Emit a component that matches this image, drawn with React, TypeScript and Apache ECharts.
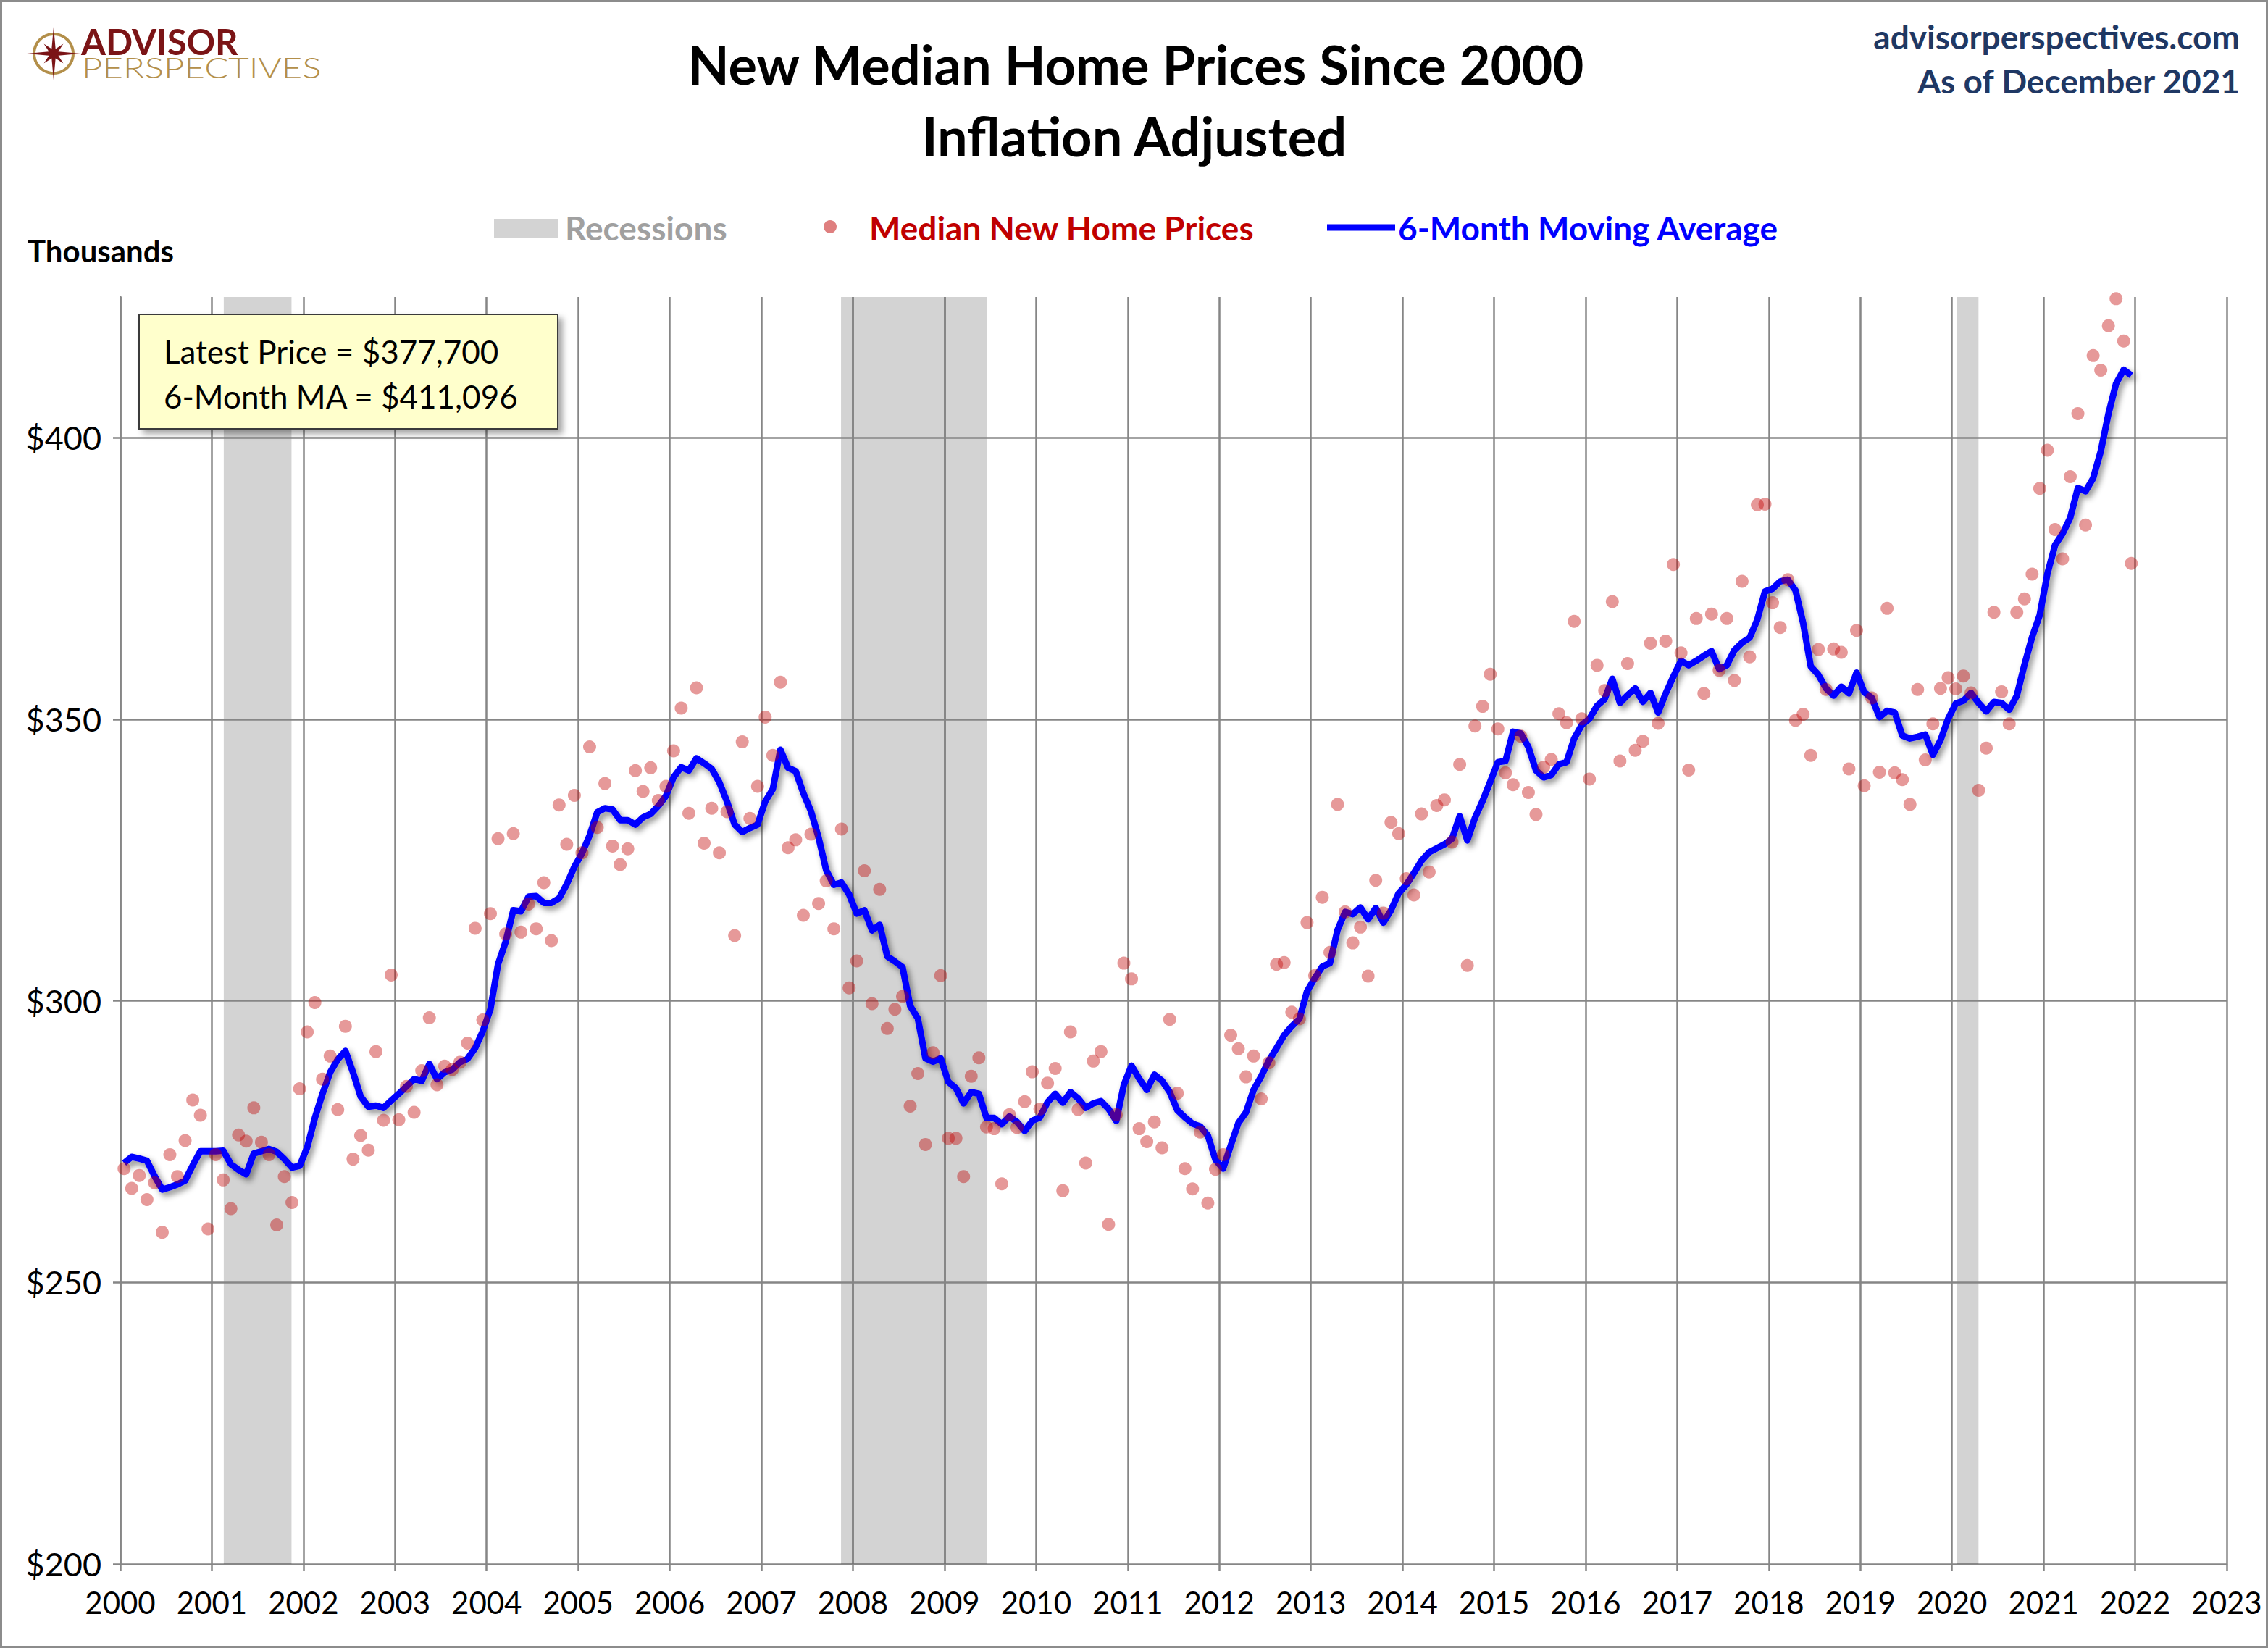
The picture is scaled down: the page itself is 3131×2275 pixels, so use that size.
import React, { useEffect, useRef } from "react";
import * as echarts from "echarts";

// ---- DATA (thousands of 2021 dollars), one row per year, Jan..Dec ----
const YEARS = [2000, 2001, 2002, 2003, 2004, 2005, 2006, 2007, 2008, 2009, 2010, 2011, 2012, 2013, 2014, 2015, 2016, 2017, 2018, 2019, 2020, 2021];

const MEDIAN_PRICES: number[][] = [
  [270.2, 266.7, 269.0, 264.7, 267.7, 258.9, 272.7, 268.8, 275.2, 282.4, 279.7, 259.5],
  [272.7, 268.2, 263.1, 276.2, 275.1, 281.0, 274.9, 272.7, 260.2, 268.8, 264.2, 284.4],
  [294.5, 299.7, 286.1, 290.2, 280.7, 295.5, 271.9, 276.1, 273.5, 291.0, 278.8, 304.6],
  [278.9, 284.8, 280.2, 287.6, 297.0, 285.1, 288.4, 287.8, 289.1, 292.5, 312.9, 296.6],
  [315.5, 328.8, 311.9, 329.7, 312.2, 317.2, 312.8, 321.0, 310.7, 334.8, 327.8, 336.5],
  [326.3, 345.1, 330.8, 338.6, 327.5, 324.2, 327.0, 340.9, 337.2, 341.4, 335.6, 338.1],
  [344.4, 352.0, 333.3, 355.6, 328.0, 334.2, 326.3, 333.6, 311.6, 346.0, 332.4, 338.1],
  [350.4, 343.6, 356.6, 327.2, 328.6, 315.2, 329.6, 317.3, 321.3, 312.8, 330.5, 302.3],
  [307.1, 323.1, 299.5, 319.8, 295.1, 298.5, 300.8, 281.3, 287.1, 274.5, 290.8, 304.5],
  [275.6, 275.6, 268.8, 286.6, 289.9, 277.6, 277.3, 267.5, 279.8, 277.5, 282.1, 287.4],
  [280.8, 285.4, 288.0, 266.3, 294.5, 280.7, 271.2, 289.3, 291.0, 260.3, 279.8, 306.7],
  [303.9, 277.3, 275.0, 278.5, 273.9, 296.7, 283.6, 270.2, 266.6, 276.7, 264.1, 270.1],
  [272.7, 293.9, 291.5, 286.5, 290.2, 282.6, 289.0, 306.5, 306.8, 298.0, 296.8, 313.9],
  [304.5, 318.4, 308.6, 334.9, 315.8, 310.3, 313.1, 304.4, 321.4, 315.6, 331.7, 329.7],
  [321.7, 318.8, 333.2, 322.9, 334.7, 335.7, 328.2, 342.0, 306.3, 348.8, 352.3, 358.0],
  [348.3, 340.5, 338.4, 347.0, 337.0, 333.1, 341.5, 342.9, 351.0, 349.4, 367.4, 350.1],
  [339.4, 359.6, 355.1, 370.9, 342.6, 359.9, 344.5, 346.1, 363.5, 349.3, 363.9, 377.5],
  [361.8, 341.0, 367.9, 354.6, 368.7, 358.7, 367.9, 356.9, 374.5, 361.1, 388.1, 388.2],
  [370.7, 366.3, 374.8, 349.8, 350.9, 343.6, 362.4, 355.3, 362.5, 361.9, 341.2, 365.8],
  [338.2, 353.8, 340.6, 369.7, 340.5, 339.3, 334.9, 355.3, 342.8, 349.2, 355.5, 357.4],
  [355.4, 357.7, 354.7, 337.4, 344.9, 369.0, 354.9, 349.2, 369.0, 371.4, 375.8, 391.0],
  [397.8, 383.7, 378.5, 393.1, 404.3, 384.5, 414.6, 412.0, 419.9, 424.7, 417.2, 377.7],
];

const MOVING_AVERAGE: number[][] = [
  [271.2, 272.3, 272.0, 271.6, 268.9, 266.5, 266.9, 267.4, 268.1, 270.8, 273.3, 273.3],
  [273.3, 273.4, 271.0, 270.0, 269.2, 272.9, 273.3, 273.7, 273.2, 271.9, 270.4, 270.7],
  [274.0, 279.2, 283.5, 287.3, 289.6, 291.1, 287.3, 283.0, 281.2, 281.4, 281.0, 282.3],
  [283.5, 284.8, 286.1, 285.8, 288.8, 286.1, 287.3, 287.8, 289.1, 289.7, 291.6, 294.6],
  [298.5, 306.5, 310.5, 316.1, 315.9, 318.5, 318.6, 317.4, 317.4, 318.2, 320.7, 323.8],
  [326.2, 329.4, 333.5, 334.2, 334.0, 332.1, 332.1, 331.3, 332.6, 333.2, 334.6, 336.4],
  [339.7, 341.5, 340.9, 343.1, 342.2, 341.2, 338.8, 335.4, 331.3, 330.0, 330.7, 331.3],
  [335.4, 337.6, 344.6, 341.4, 340.8, 336.9, 333.7, 329.0, 323.2, 320.6, 321.0, 318.9],
  [315.5, 316.1, 312.5, 313.5, 307.9, 307.0, 306.0, 299.1, 296.9, 289.8, 289.2, 289.8],
  [285.6, 284.5, 281.8, 283.8, 283.5, 279.2, 279.2, 278.1, 279.5, 278.5, 276.9, 278.7],
  [279.3, 282.0, 283.5, 281.9, 283.8, 282.7, 281.0, 281.8, 282.2, 280.8, 278.7, 285.1],
  [288.5, 286.2, 284.2, 286.9, 285.8, 283.8, 280.6, 279.3, 278.2, 277.7, 276.1, 271.8],
  [270.2, 274.3, 278.3, 280.2, 284.2, 286.6, 289.4, 291.6, 293.9, 295.5, 296.8, 301.7],
  [304.0, 306.1, 306.7, 312.6, 315.8, 315.4, 316.6, 314.5, 316.5, 313.9, 316.1, 319.1],
  [320.6, 322.7, 324.9, 326.4, 327.1, 327.8, 328.8, 332.8, 328.5, 332.5, 335.5, 338.9],
  [342.4, 342.6, 347.8, 347.5, 345.1, 340.9, 339.7, 340.1, 342.0, 342.4, 346.6, 349.0],
  [350.1, 352.4, 353.6, 357.2, 352.9, 354.3, 355.5, 353.1, 354.7, 351.2, 354.6, 357.6],
  [360.4, 359.6, 360.4, 361.3, 362.1, 358.9, 359.6, 362.3, 363.6, 364.5, 367.7, 372.7],
  [373.2, 374.5, 374.8, 372.9, 367.1, 359.4, 357.9, 355.5, 354.2, 355.8, 354.6, 358.3],
  [354.8, 353.8, 350.4, 351.5, 351.2, 347.1, 346.6, 346.9, 347.3, 343.7, 346.3, 350.1],
  [352.8, 353.3, 354.7, 352.9, 351.4, 353.1, 352.9, 351.7, 354.2, 359.7, 364.6, 368.5],
  [375.8, 380.9, 383.0, 385.8, 391.1, 390.5, 392.8, 397.6, 404.2, 409.6, 412.1, 411.1],
];

// recession spans in fractional years
const RECESSIONS: [number, number][] = [
  [2001.13, 2001.87],
  [2007.87, 2009.46],
  [2020.05, 2020.29],
];

const Y_GRID_VALUES = [250, 300, 350, 400];

const TITLE_LINES = ["New Median Home Prices Since 2000", "Inflation Adjusted"];
const LATEST_PRICE = "Latest Price = $377,700";
const LATEST_MA = "6-Month MA = $411,096";

const FONT = "Lato, 'Open Sans', sans-serif";
const GRID_COLOR = "#868686";
const DOT_COLOR = "rgba(192,0,0,0.5)";
const LINE_COLOR = "#0000FF";
const GOLD = "#B38F4A";
const MAROON = "#7B1416";

function toPairs(rows: number[][]): [number, number][] {
  const out: [number, number][] = [];
  rows.forEach((row, yi) => {
    row.forEach((v, m) => {
      out.push([YEARS[yi] + (m + 0.5) / 12, v]);
    });
  });
  return out;
}

function txt(text: string, x: number, y: number, opts: any = {}) {
  const { align = "left", vAlign = "middle", size = 40, weight = "normal", color = "#000", scaleX, family = FONT } = opts;
  const el: any = {
    type: "text",
    x,
    y,
    silent: true,
    style: {
      text,
      x: 0,
      y: 0,
      fill: color,
      fontSize: size,
      fontWeight: weight,
      fontFamily: family,
      align,
      verticalAlign: vAlign,
      textAlign: align,
      textVerticalAlign: vAlign,
    },
  };
  if (scaleX) el.scaleX = scaleX;
  return el;
}

function starPoints(cx: number, cy: number) {
  const pts: number[][] = [];
  for (let k = 0; k < 16; k++) {
    const ang = (k * Math.PI) / 8 - Math.PI / 2;
    let r = 7;
    if (k % 2 === 0) r = (k / 2) % 2 === 0 ? 37 : 19;
    pts.push([cx + r * Math.cos(ang), cy + r * Math.sin(ang)]);
  }
  return pts;
}

export default function App() {
  const ref = useRef<HTMLDivElement>(null);

  useEffect(() => {
    document.body.style.margin = "0";
    if (!ref.current) return;
    const chart = echarts.init(ref.current, undefined, { renderer: "svg" });

    const graphicEls: any[] = [
      // outer frame
      {
        type: "rect",
        silent: true,
        shape: { x: 1.5, y: 1.5, width: 3128, height: 2272 },
        style: { fill: "none", stroke: "#8c8c8c", lineWidth: 3 },
      },
      // logo
      {
        type: "ring",
        silent: true,
        shape: { cx: 74, cy: 74, r: 29, r0: 25 },
        style: { fill: GOLD },
      },
      {
        type: "polygon",
        silent: true,
        shape: { points: starPoints(74, 74) },
        style: { fill: MAROON },
      },
      txt("ADVISOR", 112, 57, { size: 49, weight: "bold", color: MAROON }),
      txt("PERSPECTIVES", 113, 93, { size: 39, weight: 300, color: GOLD, scaleX: 1.26 }),
      // title
      txt(TITLE_LINES[0], 1568, 88, { align: "center", size: 74, weight: "bold" }),
      txt(TITLE_LINES[1], 1566, 187, { align: "center", size: 74, weight: "bold" }),
      // top right
      txt("advisorperspectives.com", 3092, 50, { align: "right", size: 46, weight: "bold", color: "#1F3864" }),
      txt("As of December 2021", 3092, 111, { align: "right", size: 46, weight: "bold", color: "#1F3864" }),
      // legend
      {
        type: "rect",
        silent: true,
        shape: { x: 682, y: 302, width: 88, height: 26 },
        style: { fill: "#D3D3D3" },
      },
      txt("Recessions", 780, 314, { size: 46, weight: "bold", color: "#A0A0A0" }),
      {
        type: "circle",
        silent: true,
        shape: { cx: 1146, cy: 313, r: 9 },
        style: { fill: DOT_COLOR },
      },
      txt("Median New Home Prices", 1200, 314, { size: 46, weight: "bold", color: "#C00000" }),
      {
        type: "line",
        silent: true,
        shape: { x1: 1832, y1: 314, x2: 1926, y2: 314 },
        style: { stroke: LINE_COLOR, lineWidth: 9 },
      },
      txt("6-Month Moving Average", 1930, 314, { size: 46, weight: "bold", color: LINE_COLOR }),
      // axis unit
      txt("Thousands", 38, 346, { size: 42, weight: "bold" }),
      // annotation box
      {
        type: "rect",
        silent: true,
        z: 10,
        shape: { x: 192, y: 434, width: 578, height: 158 },
        style: {
          fill: "#FFFFCC",
          stroke: "#3a3a3a",
          lineWidth: 2,
          shadowBlur: 8,
          shadowOffsetX: 6,
          shadowOffsetY: 6,
          shadowColor: "rgba(0,0,0,0.35)",
        },
      },
      { ...txt(LATEST_PRICE, 226, 485, { size: 44 }), z: 11 },
      { ...txt(LATEST_MA, 226, 547, { size: 44 }), z: 11 },
    ];

    const option: any = {
      animation: false,
      backgroundColor: "#ffffff",
      grid: { left: 166, top: 410, width: 2908, height: 1749, containLabel: false },
      xAxis: {
        type: "value",
        min: 2000,
        max: 2023,
        interval: 1,
        axisLine: { show: true, lineStyle: { color: GRID_COLOR, width: 2.5 } },
        axisTick: { show: true, length: 10, lineStyle: { color: GRID_COLOR, width: 2.5 } },
        axisLabel: {
          color: "#000",
          fontSize: 42,
          fontFamily: FONT,
          margin: 32,
          formatter: (v: number) => String(Math.round(v)),
        },
        splitLine: { show: true, lineStyle: { color: GRID_COLOR, width: 2.5 } },
      },
      yAxis: {
        type: "value",
        min: 200,
        max: 425,
        interval: 50,
        axisLine: { show: true, lineStyle: { color: GRID_COLOR, width: 2.5 } },
        axisTick: { show: true, length: 10, lineStyle: { color: GRID_COLOR, width: 2.5 } },
        axisLabel: {
          color: "#000",
          fontSize: 45,
          fontFamily: FONT,
          margin: 26,
          showMaxLabel: false,
          formatter: (v: number) => (v > 400 ? "" : "$" + v),
        },
        splitLine: { show: false },
      },
      series: [
        {
          name: "6-Month Moving Average",
          type: "line",
          z: 2,
          data: toPairs(MOVING_AVERAGE),
          showSymbol: false,
          symbol: "none",
          lineStyle: {
            color: LINE_COLOR,
            width: 9,
            join: "round",
            shadowColor: "rgba(0,0,0,0.45)",
            shadowBlur: 8,
            shadowOffsetX: 4,
            shadowOffsetY: 5,
          },
          markArea: {
            silent: true,
            z: 1,
            itemStyle: { color: "rgba(0,0,0,0.173)" },
            data: RECESSIONS.map(([a, b]) => [{ xAxis: a }, { xAxis: b }]),
          },
          markLine: {
            silent: true,
            z: 1,
            symbol: ["none", "none"],
            label: { show: false },
            lineStyle: { color: GRID_COLOR, width: 2.5, type: "solid" },
            data: Y_GRID_VALUES.map((v) => ({ yAxis: v })),
          },
        },
        {
          name: "Median New Home Prices",
          type: "scatter",
          z: 3,
          data: toPairs(MEDIAN_PRICES),
          symbolSize: 18,
          itemStyle: { color: DOT_COLOR },
        },
      ],
      graphic: { elements: graphicEls },
    };

    chart.setOption(option);
    return () => chart.dispose();
  }, []);

  return <div ref={ref} style={{ width: 3131, height: 2275 }} />;
}
